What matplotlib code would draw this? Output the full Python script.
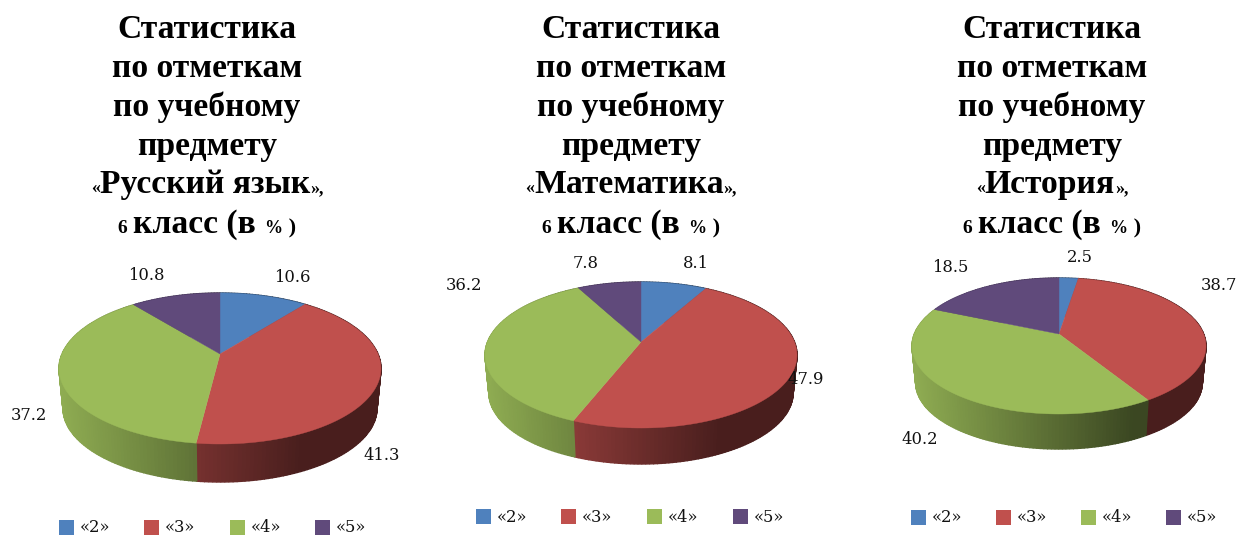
import numpy as np
import matplotlib
matplotlib.use('Agg')
import matplotlib.pyplot as plt

categories = ['«2»', '«3»', '«4»', '«5»']
subjects = ['«Русский язык»', '«Математика»', '«История»']
russian = [10.6, 41.3, 37.2, 10.8]
maths = [8.1, 47.9, 36.2, 7.8]
history = [2.5, 38.7, 40.2, 18.5]
all_values = [russian, maths, history]
labels = [['10.6', '41.3', '37.2', '10.8'],
          ['8.1', '47.9', '36.2', '7.8'],
          ['2.5', '38.7', '40.2', '18.5']]

colors = ['#4f81bd', '#c0504d', '#9bbb59', '#604a7b']

# apex x, apex y, half width, up, down, bottom of side
geom = [(220, 354, 161, 61, 90, 482),
        (641, 342, 156, 60, 86, 464),
        (1059, 334, 147, 56, 80, 449)]
label_pos = [[(292, 277), (382, 456), (29, 415), (146, 276)],
             [(696, 264), (806, 380), (464, 286), (586, 264)],
             [(1080, 257), (1219, 286), (920, 440), (950, 267)]]
legend_x = [[59, 144, 230, 315], [476, 561, 647, 733], [911, 996, 1081, 1166]]
legend_y = [520, 509, 510]
title_x = [207, 631, 1052]
title_base = [38, 77, 116, 155, 193, 233]

SERIF = 'DejaVu Serif'
TITLE_FONT = 'Liberation Serif'
TITLE_SIZE = 24.2

fig = plt.figure(figsize=(12.4, 5.35), dpi=100)
ax = fig.add_axes([0, 0, 1, 1])
ax.set_xlim(0, 1240)
ax.set_ylim(535, 0)
ax.axis('off')
renderer = fig.canvas.get_renderer()


def make_rim(g):
    cx, ay, hw, up, down, bottom = g
    k = (down - up) / (down + up)
    b = up * (1 + k)
    a = hw * np.sqrt(1 - k * k)

    def rim(theta):
        u, v = np.sin(theta), np.cos(theta)
        d = 1 + k * v
        return cx + a * u / d, ay - b * v / d
    return rim


def shade(frac):
    return np.interp(frac, [0, .43, .75, 1], [.92, .61, .38, .38])


def draw_pie(values, g):
    cx, ay, hw, up, down, bottom = g
    rim = make_rim(g)
    s = 0.975
    dy = bottom - ay - s * down
    fr = np.array(values) / sum(values)
    edges = np.concatenate([[0], np.cumsum(fr)]) * 2 * np.pi

    # side first, in small strips so it can have the gradient
    for i, col in enumerate(colors):
        th = np.linspace(edges[i], edges[i + 1], max(4, int(fr[i] * 300)))
        x, y = rim(th)
        xb = cx + s * (x - cx)
        yb = ay + dy + s * (y - ay)
        base = np.array(matplotlib.colors.to_rgb(col))
        for j in range(len(th) - 1):
            c = base * shade(((x[j] + x[j + 1]) / 2 - (cx - hw)) / (2 * hw))
            ax.fill([x[j], x[j + 1], xb[j + 1], xb[j]], [y[j], y[j + 1], yb[j + 1], yb[j]],
                    color=c, lw=1.0, zorder=2 + (y[j] > ay))

    # top surface
    for i, col in enumerate(colors):
        th = np.linspace(edges[i], edges[i + 1], 120)
        x, y = rim(th)
        ax.fill(np.r_[cx, x], np.r_[ay, y], color=col, lw=0.3, zorder=4)


def rich_line(x, y, runs):
    # centred line made of pieces with different sizes
    widths = []
    bar = ax.text(0, 0, '|', fontfamily=TITLE_FONT, fontweight='bold', fontsize=TITLE_SIZE)
    for txt, size in runs:
        t = ax.text(0, 0, txt + '|', fontfamily=TITLE_FONT, fontweight='bold', fontsize=size)
        bar.set_fontsize(size)
        widths.append(t.get_window_extent(renderer).width - bar.get_window_extent(renderer).width)
        t.remove()
    bar.remove()
    pos = x - sum(widths) / 2
    for (txt, size), w in zip(runs, widths):
        ax.text(pos, y, txt, fontfamily=TITLE_FONT, fontweight='bold', fontsize=size,
                ha='left', va='baseline', color='black')
        pos += w


for n, values in enumerate(all_values):
    draw_pie(values, geom[n])

    for lab, (lx, ly) in zip(labels[n], label_pos[n]):
        ax.text(lx, ly, lab, fontfamily=SERIF, fontsize=11.8, ha='center', va='center',
                color='#111111', zorder=6)

    for cat, col, lx in zip(categories, colors, legend_x[n]):
        ax.add_patch(plt.Rectangle((lx, legend_y[n]), 15, 15, color=col, lw=0))
        ax.text(lx + 21, legend_y[n] + 8, cat, fontfamily=SERIF, fontsize=11.8,
                ha='left', va='center', color='#111111')

    tx = title_x[n]
    for i, line in enumerate(['Статистика', 'по отметкам', 'по учебному', 'предмету']):
        rich_line(tx, title_base[i], [(line, TITLE_SIZE)])
    name = subjects[n]
    rich_line(tx, title_base[4], [('«', 13), (name[1:-1], TITLE_SIZE), ('»,', 13)])
    rich_line(tx, title_base[5], [('6 ', 14), ('класс (в', TITLE_SIZE), ('  %', 13), (' )', 16)])

fig.savefig('out.png', dpi=100, facecolor='white')
